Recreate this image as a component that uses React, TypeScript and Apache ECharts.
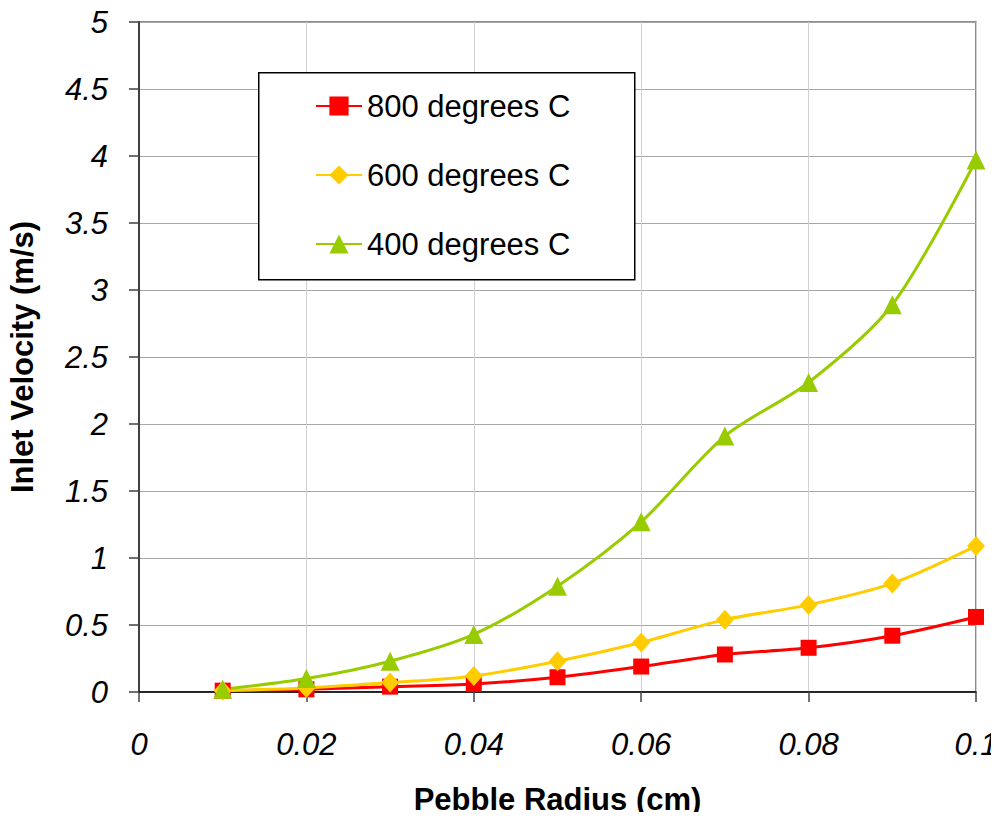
import React, { useEffect, useRef } from "react";
import * as echarts from "echarts";

const radius = [0.01, 0.02, 0.03, 0.04, 0.05, 0.06, 0.07, 0.08, 0.09, 0.1];
const v800 = [0.01, 0.02, 0.04, 0.06, 0.11, 0.19, 0.28, 0.33, 0.42, 0.56];
const v600 = [0.01, 0.03, 0.07, 0.12, 0.23, 0.37, 0.54, 0.65, 0.81, 1.09];
const v400 = [0.02, 0.1, 0.23, 0.43, 0.79, 1.27, 1.91, 2.31, 2.89, 3.97];
const seriesNames = ["800 degrees C", "600 degrees C", "400 degrees C"];

const FONT = "Liberation Sans, Arial, sans-serif";

export default function App() {
  const ref = useRef<HTMLDivElement>(null);
  useEffect(() => {
    if (!ref.current) return;
    const chart = echarts.init(ref.current, undefined, { renderer: "svg" });
    const pair = (ys: number[]) => radius.map((x, i) => [x, ys[i]]);
    const mk = (name: string, ys: number[], color: string, symbol: string, size: any) => ({
      name,
      type: "line",
      data: pair(ys),
      smooth: 0.3,
      symbol,
      symbolSize: size,
      showSymbol: true,
      lineStyle: { color, width: 3 },
      itemStyle: { color },
      z: 3,
    });
    chart.setOption({
      animation: false,
      backgroundColor: "#ffffff",
      textStyle: { fontFamily: FONT },
      grid: {
        left: 139,
        right: 23,
        top: 22,
        bottom: 128,
        containLabel: false,
        outerBoundsMode: "none",
        show: true,
        borderColor: "#666666",
        borderWidth: 1.5,
        backgroundColor: "transparent",
      },
      graphic: [
        {
          type: "rect",
          left: 258,
          top: 72,
          shape: { width: 376, height: 207 },
          style: { fill: "#ffffff", stroke: "#000000", lineWidth: 1.5 },
          z: 10,
        },
      ],
      legend: {
        orient: "vertical",
        left: 310,
        top: 84,
        itemWidth: 46,
        itemHeight: 24,
        itemGap: 35,
        z: 20,
        data: seriesNames,
        textStyle: { fontSize: 31, color: "#000", fontFamily: FONT, lineHeight: 34 },
      },
      xAxis: {
        type: "value",
        min: 0,
        max: 0.1,
        interval: 0.02,
        name: "Pebble Radius (cm)",
        nameLocation: "middle",
        nameGap: 92,
        nameTextStyle: { fontSize: 31, fontWeight: "bold", color: "#000", fontFamily: FONT },
        axisLine: { show: true, lineStyle: { color: "#000", width: 1.5 } },
        axisTick: { show: true, inside: false, length: 10, lineStyle: { color: "#444", width: 1.5 } },
        axisLabel: {
          fontSize: 31,
          fontStyle: "italic",
          color: "#000",
          margin: 37,
          fontFamily: FONT,
          formatter: (v: number) => String(Math.round(v * 100) / 100),
        },
        splitLine: { show: true, lineStyle: { color: "#d0d0d0", width: 1 } },
      },
      yAxis: {
        type: "value",
        min: 0,
        max: 5,
        interval: 0.5,
        name: "Inlet Velocity (m/s)",
        nameLocation: "middle",
        nameGap: 101,
        nameTextStyle: { fontSize: 31, fontWeight: "bold", color: "#000", fontFamily: FONT },
        axisLine: { show: true, lineStyle: { color: "#404040", width: 2 } },
        axisTick: { show: true, inside: false, length: 10, lineStyle: { color: "#404040", width: 1.5 } },
        axisLabel: {
          fontSize: 31,
          fontStyle: "italic",
          color: "#000",
          margin: 31,
          fontFamily: FONT,
        },
        splitLine: { show: true, lineStyle: { color: "#a6a6a6", width: 1.2 } },
      },
      series: [
        mk(seriesNames[0], v800, "#ff0000", "rect", 16),
        mk(seriesNames[1], v600, "#ffcc00", "diamond", [18, 20]),
        mk(seriesNames[2], v400, "#99cc00", "triangle", 19),
      ],
    });
    return () => chart.dispose();
  }, []);
  return <div ref={ref} style={{ width: 999, height: 820, margin: -8 }} />;
}
